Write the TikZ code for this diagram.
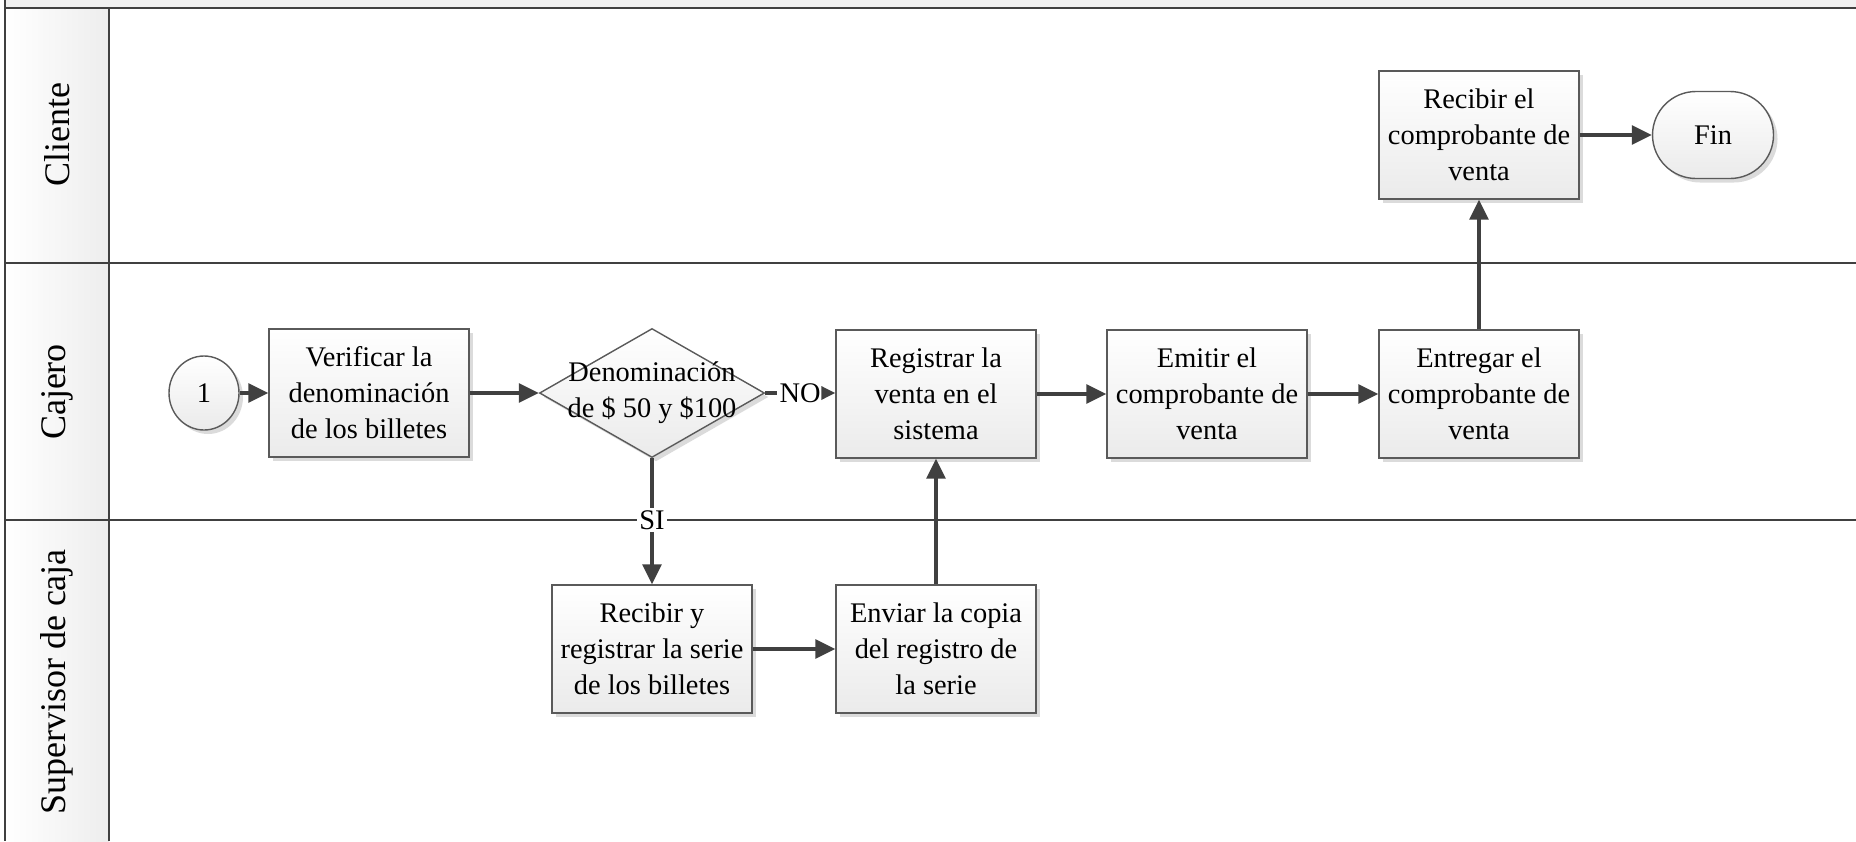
\documentclass[tikz,border=0pt]{standalone}
\usepackage{fontspec}
\setmainfont{Liberation Serif}
\usetikzlibrary{arrows.meta,shapes.geometric,shapes.misc,shadows}
\definecolor{ln}{HTML}{404040}
\definecolor{bd}{HTML}{5A5A5A}
\begin{document}
\begin{tikzpicture}[x=0.5pt,y=-0.5pt,
  txt/.style={font=\fontsize{14.2}{18}\selectfont,align=center},
  shad/.style={drop shadow={shadow xshift=2pt,shadow yshift=-2pt,fill=black!14,opacity=1}},
  proc/.style={rectangle,draw=bd,line width=0.7pt,top color=white,bottom color=black!8,
    minimum width=100pt,minimum height=64pt,inner sep=2pt,txt,shad},
  decision/.style={diamond,draw=bd,line width=0.7pt,top color=white,bottom color=black!8,
    minimum width=112.5pt,minimum height=64.5pt,inner sep=0pt,shad},
  startc/.style={ellipse,draw=bd,line width=0.7pt,top color=white,bottom color=black!8,
    minimum width=35pt,minimum height=37pt,inner sep=0pt,txt,shad},
  term/.style={rounded rectangle,draw=bd,line width=0.7pt,top color=white,bottom color=black!8,
    minimum width=60.5pt,minimum height=43.5pt,inner sep=0pt,txt,shad},
  lane/.style={draw=ln,line width=1pt},
  hdr/.style={rotate=90,font=\fontsize{18}{22}\selectfont},
  conn/.style={draw=ln,line width=1.6pt,-{Triangle[length=10pt,width=9.5pt]}},
  sconn/.style={draw=ln,line width=1.6pt,-{Triangle[length=7pt,width=6.5pt]}},
  plain/.style={draw=ln,line width=1.6pt},
  lbl/.style={txt,fill=white,inner sep=1pt}
]
\useasboundingbox (0,0) rectangle (1856,841);
% pool / lanes
\fill[black!6] (5,0) rectangle (1856,8);
\shade[left color=white,right color=black!7] (5,8) rectangle (109,841);
\draw[lane] (5,0) -- (5,841);
\draw[lane] (109,8) -- (109,841);
\draw[lane] (5,8) -- (1856,8);
\draw[lane] (5,263) -- (1856,263);
\draw[lane] (5,520) -- (1856,520);
\node[hdr] (hcli) at (57,135) {Cliente};
\node[hdr] (hcaj) at (57,392) {Cajero};
\node[hdr] (hsup) at (57,682) {Supervisor de caja};
% nodes
\node[startc] (c1) at (204,393) {1};
\node[proc] (ver) at (369,393) {Verificar la\\denominación\\de los billetes};
\node[decision] (dec) at (652,393) {};
\node[txt] (dectxt) at (652,393) {Denominación\\de \$ 50 y \$100};
\node[proc] (reg) at (936,394) {Registrar la\\venta en el\\sistema};
\node[proc] (emi) at (1207,394) {Emitir el\\comprobante de\\venta};
\node[proc] (ent) at (1479,394) {Entregar el\\comprobante de\\venta};
\node[proc] (rec) at (1479,135) {Recibir el\\comprobante de\\venta};
\node[term] (fin) at (1713,135) {Fin};
\node[proc] (rry) at (652,649) {Recibir y\\registrar la serie\\de los billetes};
\node[proc] (env) at (936,649) {Enviar la copia\\del registro de\\la serie};
\node[lbl] (no) at (800,393) {NO};
\node[lbl] (si) at (652,520) {SI};
% connectors
\draw[conn] (c1) -- (ver);
\draw[conn] (ver) -- (dec);
\draw[plain] (dec.east) -- (no.west);
\draw[sconn] (no.east) -- (reg.west |- no.east);
\draw[plain] (dec.south) -- (si.north);
\draw[conn] (si.south) -- (rry.north);
\draw[conn] (rry) -- (env);
\draw[conn] (env) -- (reg);
\draw[conn] (reg) -- (emi);
\draw[conn] (emi) -- (ent);
\draw[conn] (ent) -- (rec);
\draw[conn] (rec) -- (fin);
\end{tikzpicture}
\end{document}
